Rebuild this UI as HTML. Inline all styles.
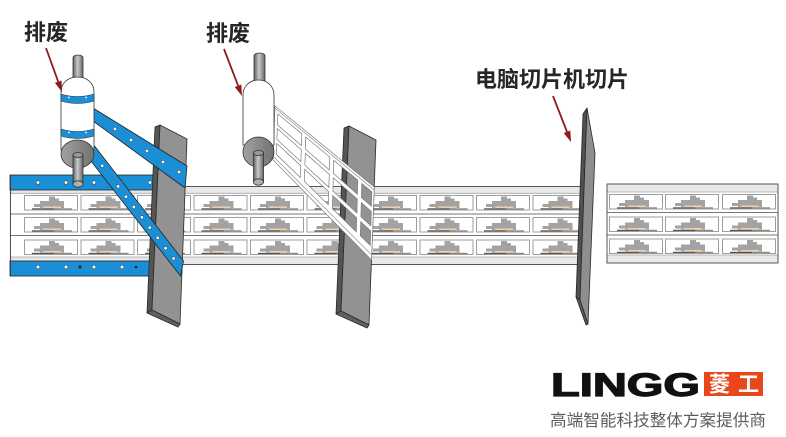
<!DOCTYPE html>
<html><head><meta charset="utf-8"><style>
html,body{margin:0;padding:0;background:#fff;}
svg{display:block;}
.lb{font-family:"Liberation Sans","Noto Sans CJK SC",sans-serif;font-weight:bold;fill:#262626;}
</style></head><body>
<svg width="786" height="437" viewBox="0 0 786 437" xmlns="http://www.w3.org/2000/svg">
<defs>
 <g id="c">
  <rect x="0.5" y="0.5" width="53" height="14.5" fill="#fff" stroke="#9d9d9d" stroke-width="1"/>
  <rect x="25" y="1.5" width="6" height="5" fill="#a3a3a3"/>
  <rect x="31" y="3.5" width="4" height="3" fill="#a3a3a3"/>
  <rect x="16" y="6" width="24" height="7" fill="#a3a3a3"/>
  <rect x="10" y="9" width="7" height="3" fill="#a3a3a3"/>
  <rect x="19" y="11.5" width="18" height="2" fill="#f1cfae"/>
  <rect x="8" y="13.3" width="22" height="1.2" fill="#555"/>
  <rect x="30" y="13.3" width="18" height="1.2" fill="#888"/>
 </g>
 <linearGradient id="sh" x1="0" x2="1" y1="0" y2="0">
  <stop offset="0" stop-color="#5e5e5e"/><stop offset="0.45" stop-color="#cacaca"/><stop offset="1" stop-color="#666"/>
 </linearGradient>
 <linearGradient id="dg" x1="0" x2="1" y1="0" y2="0">
  <stop offset="0" stop-color="#a2a2a2"/><stop offset="1" stop-color="#727272"/>
 </linearGradient>
 <clipPath id="sc"><rect x="10" y="180" width="572" height="90"/></clipPath>
</defs>
<rect width="786" height="437" fill="#fff"/>

<!-- long strip -->
<g clip-path="url(#sc)">
 <rect x="10" y="186" width="572" height="78.5" fill="#fff"/>
 <rect x="10" y="186" width="572" height="7" fill="#e8e8e8"/>
 <rect x="10" y="257" width="572" height="7.5" fill="#e8e8e8"/>
 <line x1="10" y1="186.5" x2="582" y2="186.5" stroke="#555" stroke-width="1"/>
 <line x1="10" y1="193.3" x2="582" y2="193.3" stroke="#a5a5a5" stroke-width="0.8"/>
 <line x1="10" y1="214" x2="582" y2="214" stroke="#777" stroke-width="1"/>
 <line x1="10" y1="235.5" x2="582" y2="235.5" stroke="#777" stroke-width="1"/>
 <line x1="10" y1="257" x2="582" y2="257" stroke="#a5a5a5" stroke-width="0.8"/>
 <line x1="10" y1="264.5" x2="582" y2="264.5" stroke="#555" stroke-width="1"/>
 <use href="#c" x="24" y="195"/><use href="#c" x="80.5" y="195"/><use href="#c" x="137" y="195"/><use href="#c" x="193.5" y="195"/><use href="#c" x="250" y="195"/><use href="#c" x="306.5" y="195"/><use href="#c" x="363" y="195"/><use href="#c" x="419.5" y="195"/><use href="#c" x="476" y="195"/><use href="#c" x="532.5" y="195"/>
 <use href="#c" x="24" y="217"/><use href="#c" x="80.5" y="217"/><use href="#c" x="137" y="217"/><use href="#c" x="193.5" y="217"/><use href="#c" x="250" y="217"/><use href="#c" x="306.5" y="217"/><use href="#c" x="363" y="217"/><use href="#c" x="419.5" y="217"/><use href="#c" x="476" y="217"/><use href="#c" x="532.5" y="217"/>
 <use href="#c" x="24" y="239.5"/><use href="#c" x="80.5" y="239.5"/><use href="#c" x="137" y="239.5"/><use href="#c" x="193.5" y="239.5"/><use href="#c" x="250" y="239.5"/><use href="#c" x="306.5" y="239.5"/><use href="#c" x="363" y="239.5"/><use href="#c" x="419.5" y="239.5"/><use href="#c" x="476" y="239.5"/><use href="#c" x="532.5" y="239.5"/>
</g>

<!-- left blue section -->
<rect x="10" y="175" width="150" height="15" fill="#1b8fd5" stroke="#222" stroke-width="0.8"/>
<rect x="10" y="261" width="150" height="15" fill="#1b8fd5" stroke="#222" stroke-width="0.8"/>
<line x1="10.4" y1="175" x2="10.4" y2="276" stroke="#333" stroke-width="0.9"/>
<g fill="#fff" stroke="#333" stroke-width="0.5">
 <circle cx="38" cy="182.5" r="1.8"/><circle cx="66" cy="182.5" r="1.8"/><circle cx="94" cy="182.5" r="1.8"/><circle cx="122" cy="182.5" r="1.8"/><circle cx="150" cy="182.5" r="1.8"/>
 <circle cx="38" cy="267" r="1.8"/><circle cx="66" cy="267" r="1.8"/><circle cx="94" cy="267" r="1.8"/><circle cx="122" cy="267" r="1.8"/>
</g>
<circle cx="80" cy="267" r="1.5" fill="#222"/><circle cx="136" cy="267" r="1.3" fill="#222"/>

<!-- right strip -->
<rect x="607" y="184" width="171" height="79" fill="#fff"/>
<rect x="607" y="184" width="171" height="8" fill="#e8e8e8"/>
<rect x="607" y="255" width="171" height="8" fill="#e8e8e8"/>
<line x1="607" y1="192" x2="778" y2="192" stroke="#a5a5a5" stroke-width="0.8"/>
<line x1="607" y1="212.5" x2="778" y2="212.5" stroke="#777" stroke-width="1"/>
<line x1="607" y1="235" x2="778" y2="235" stroke="#777" stroke-width="1"/>
<line x1="607" y1="255" x2="778" y2="255" stroke="#a5a5a5" stroke-width="0.8"/>
<rect x="607" y="184" width="171" height="79" fill="none" stroke="#555" stroke-width="1"/>
<use href="#c" x="609" y="194"/><use href="#c" x="665" y="194"/><use href="#c" x="722" y="194"/>
<use href="#c" x="609" y="216.5"/><use href="#c" x="665" y="216.5"/><use href="#c" x="722" y="216.5"/>
<use href="#c" x="609" y="238.5"/><use href="#c" x="665" y="238.5"/><use href="#c" x="722" y="238.5"/>

<!-- blades -->
<g stroke="#2a2a2a" stroke-width="0.8" stroke-linejoin="round">
 <polygon points="155,127 160,125 152,310 147,313" fill="#555"/>
 <polygon points="160,125 187,139 180,324 152,310" fill="#929292"/>
 <polygon points="147,313 152,310 180,324 178,327" fill="#606060"/>

 <polygon points="344,128 349,126 341,311 336,314" fill="#555"/>
 <polygon points="349,126 376,140 369,325 341,311" fill="#929292"/>
 <polygon points="336,314 341,311 369,325 367,328" fill="#606060"/>

 <polygon points="583,114 587,108 580,300 576,297" fill="#505050"/>
 <polygon points="587,108 595,153 588,324 580,300" fill="#8e8e8e"/>
 <polygon points="576,297 580,300 588,324 586,325" fill="#5a5a5a"/>
</g>

<!-- blue straps -->
<polygon points="93,108 187,166 185,188 93,121" fill="#1b8fd5" stroke="#222" stroke-width="0.8"/>
<polygon points="94.75,146.3 183.5,261 180.5,276 85.25,153.7" fill="#1b8fd5" stroke="#222" stroke-width="0.8"/>
<g fill="#fff" stroke="#333" stroke-width="0.5">
 <circle cx="115" cy="129" r="1.7"/><circle cx="131" cy="140" r="1.7"/><circle cx="147" cy="151" r="1.7"/><circle cx="163" cy="162" r="1.7"/><circle cx="179" cy="172" r="1.7"/>
 <circle cx="102.2" cy="165.8" r="1.7"/><circle cx="118.1" cy="186.4" r="1.7"/><circle cx="126" cy="196.7" r="1.7"/><circle cx="133.9" cy="207" r="1.7"/><circle cx="141.9" cy="217.3" r="1.7"/><circle cx="149.8" cy="227.6" r="1.7"/><circle cx="157.7" cy="237.9" r="1.7"/><circle cx="165.6" cy="248.2" r="1.7"/><circle cx="173.6" cy="258.5" r="1.7"/>
</g>

<!-- waste matrix (middle) -->
<path fill="#fff" fill-rule="evenodd" stroke="#7c7c7c" stroke-width="0.7" d="
M275,106 L374.3,187 L371.5,260 L273,160 Z
M277.8,113.9 L301.8,133.8 L301.4,145.6 L277.4,124.8 Z
M305.8,137.1 L329.8,157 L329.4,169.9 L305.4,149.1 Z
M333.8,160.3 L357.8,180.2 L357.4,194.2 L333.4,173.4 Z
M361.8,183.5 L371.8,191.8 L371.4,206.3 L361.4,197.6 Z
M277.3,128.6 L301.3,149.8 L300.9,161.6 L276.9,139.5 Z
M305.3,153.3 L329.3,174.4 L328.9,187.3 L304.9,165.2 Z
M333.3,177.9 L357.3,199 L356.9,213 L332.9,191 Z
M361.3,202.6 L371.3,211.4 L370.9,225.9 L360.9,216.7 Z
M276.7,143.4 L300.7,165.7 L300.3,177.5 L276.3,154.3 Z
M304.7,169.4 L328.7,191.8 L328.3,204.7 L304.3,181.4 Z
M332.7,195.5 L356.7,217.9 L356.3,231.8 L332.3,208.6 Z
M360.7,221.6 L370.7,230.9 L370.3,245.4 L360.3,235.7 Z"/>
<line x1="274.9" y1="108.2" x2="374.2" y2="189.9" stroke="#7c7c7c" stroke-width="0.6"/>
<line x1="273.1" y1="156.2" x2="371.6" y2="254.9" stroke="#7c7c7c" stroke-width="0.6"/>

<!-- left roller -->
<g stroke="#333" stroke-width="0.8">
 <path d="M73,86 L73,58 A5,3 0 0 1 83,58 L83,86 Z" fill="url(#sh)"/>
 <path d="M61,150 L61,92 C61,83 68,77 77.5,77 C87,77 94,83 94,92 L94,150 Z" fill="#fff"/>
 <path d="M61,94 Q77.5,99 94,94 L94,101 Q77.5,106 61,101 Z" fill="#1b8fd5" stroke-width="0.6"/>
 <path d="M61,129 Q77.5,134 94,129 L94,136 Q77.5,141 61,136 Z" fill="#1b8fd5" stroke-width="0.6"/>
 <ellipse cx="77.5" cy="154" rx="16.5" ry="14" fill="url(#dg)"/>
 <path d="M73,155 L73,184 L83,184 L83,155 Z" fill="url(#sh)"/>
 <ellipse cx="78" cy="155" rx="5" ry="2.5" fill="#999"/>
 <ellipse cx="78" cy="184" rx="5" ry="3.2" fill="#b0b0b0"/>
</g>
<g fill="#fff"><circle cx="69" cy="97.5" r="0.9"/><circle cx="86" cy="97.5" r="0.9"/><circle cx="69" cy="132.5" r="0.9"/><circle cx="86" cy="132.5" r="0.9"/></g>

<!-- middle roller -->
<g stroke="#333" stroke-width="0.8">
 <path d="M254,88 L254,56 A5.5,3 0 0 1 265,56 L265,88 Z" fill="url(#sh)"/>
 <path d="M243,145 L243,95 C243,86 250,80 258.5,80 C267,80 274,86 274,95 L274,145 Z" fill="#fff"/>
 <ellipse cx="258.5" cy="152" rx="15.5" ry="15" fill="url(#dg)"/>
 <path d="M253.5,153 L253.5,182 L263.5,182 L263.5,153 Z" fill="url(#sh)"/>
 <ellipse cx="258.5" cy="153" rx="5" ry="2.5" fill="#999"/>
 <ellipse cx="258.5" cy="182" rx="5" ry="3.2" fill="#b0b0b0"/>
</g>

<!-- arrows -->
<g stroke="#8e1b1b" stroke-width="1.8">
 <line x1="46" y1="48" x2="58.2" y2="81.7"/>
 <line x1="224" y1="49" x2="238.1" y2="85.7"/>
 <line x1="553" y1="96" x2="567" y2="131.8"/>
</g>
<g fill="#8e1b1b">
 <polygon points="62,92 61.5,80.5 54.9,82.9"/>
 <polygon points="242,96 241.3,84.5 234.8,87"/>
 <polygon points="571,142 570.3,130.5 563.7,133"/>
</g>

<!-- labels -->
<text class="lb" x="24" y="40" font-size="22">排废</text>
<text class="lb" x="206" y="41" font-size="22">排废</text>
<text class="lb" x="475" y="87" font-size="22" textLength="154" lengthAdjust="spacingAndGlyphs">电脑切片机切片</text>

<!-- logo -->
<text x="551" y="396" font-family="'Liberation Sans',sans-serif" font-weight="bold" font-size="32" fill="#111" stroke="#111" stroke-width="1.2" textLength="149" lengthAdjust="spacingAndGlyphs">LINGG</text>
<rect x="704" y="372" width="59" height="24" fill="#e8461b"/>
<text x="709" y="391.5" font-family="'Liberation Sans','Noto Sans CJK SC',sans-serif" font-weight="bold" font-size="21" fill="#fff" textLength="50" lengthAdjust="spacing">菱工</text>
<text x="550" y="426" font-family="'Liberation Sans','Noto Sans CJK SC',sans-serif" font-size="16.5" fill="#5e5e5e" textLength="216" lengthAdjust="spacingAndGlyphs">高端智能科技整体方案提供商</text>
</svg>
</body></html>
